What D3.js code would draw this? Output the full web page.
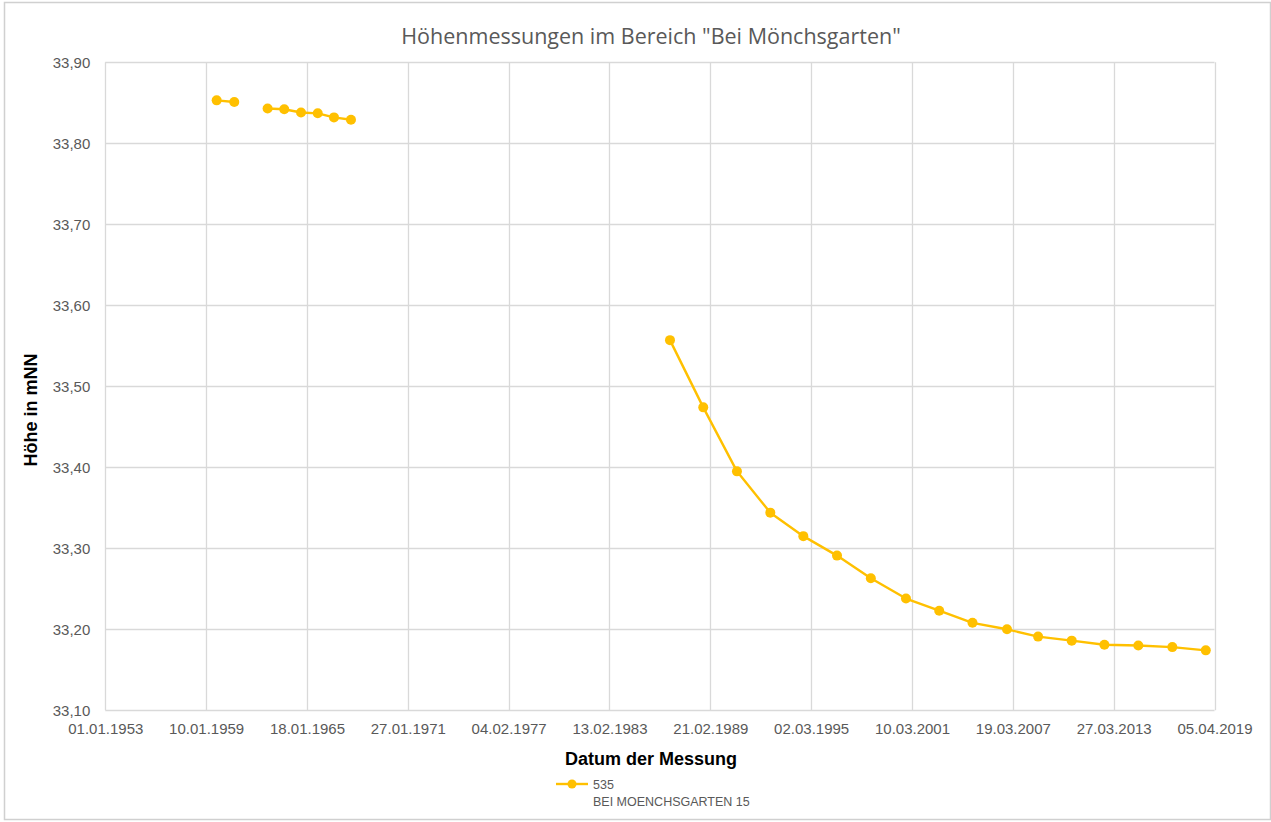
<!DOCTYPE html>
<meta charset="utf-8">
<head>
<style>
body { margin: 0; background: #fff; }
svg { display: block; }
.tick text { font-family: "Liberation Sans", Arial, sans-serif; font-size: 15px; fill: #595959; }
</style>
<script src="https://d3js.org/d3.v7.min.js"></script>
</head>
<body>
<svg width="1271" height="822"></svg>
<script>

// measurement dates (null value = gap in the series)
var dates = [
  "1959-08-28", "1960-09-15", "1961-09-15", "1962-09-12", "1963-09-10",
  "1964-09-10", "1965-09-10", "1966-08-30", "1967-09-05", "1975-01-01",
  "1986-09-25", "1988-09-20", "1990-09-25", "1992-09-22", "1994-09-12",
  "1996-09-16", "1998-09-24", "2000-10-30", "2002-10-25", "2004-10-20",
  "2006-11-12", "2008-09-20", "2010-09-24", "2012-09-06", "2014-09-16",
  "2016-09-27", "2018-09-27"
];
var heights = [
  33.853, 33.851, null, 33.843, 33.842,
  33.838, 33.837, 33.832, 33.829, null,
  33.557, 33.474, 33.395, 33.344, 33.315,
  33.291, 33.263, 33.238, 33.223, 33.208,
  33.200, 33.191, 33.186, 33.181, 33.180,
  33.178, 33.174
];
var yTicks = [33.10, 33.20, 33.30, 33.40, 33.50, 33.60, 33.70, 33.80, 33.90];
var xStart = "1953-01-01";
var xStepDays = 2200;
var xTickCount = 12;

var chartTitle = 'Höhenmessungen im Bereich "Bei Mönchsgarten"';
var xTitle = "Datum der Messung";
var yTitle = "Höhe in mNN";
var seriesName = "535";
var seriesDesc = "BEI MOENCHSGARTEN 15";

var gold = "#FFC000";

var svg = d3.select("svg");
var parse = d3.utcParse("%Y-%m-%d");
var fmtDate = d3.utcFormat("%d.%m.%Y");

var data = dates.map(function(d, i) { return {date: parse(d), value: heights[i]}; });

var start = parse(xStart);
var xTickValues = d3.range(xTickCount).map(function(i) { return d3.utcDay.offset(start, i * xStepDays); });

var plotLeft = 105.3, plotRight = 1214.5, plotTop = 62.3, plotBottom = 710.3;

var x = d3.scaleUtc()
    .domain([xTickValues[0], xTickValues[xTickValues.length - 1]])
    .range([plotLeft, plotRight]);

var y = d3.scaleLinear()
    .domain([33.10, 33.90])
    .range([plotBottom, plotTop]);

// outer chart border
svg.append("rect")
    .attr("x", 4.5).attr("y", 2.5)
    .attr("width", 1266).attr("height", 817)
    .attr("fill", "none")
    .attr("stroke", "#d0d0d0")
    .attr("stroke-width", 1.5);

// gridlines
svg.append("g")
    .selectAll("line")
    .data(yTicks)
    .enter().append("line")
      .attr("x1", plotLeft).attr("x2", plotRight)
      .attr("y1", function(d) { return Math.round(y(d)) + 0.5; })
      .attr("y2", function(d) { return Math.round(y(d)) + 0.5; })
      .attr("stroke", "#d9d9d9")
      .attr("stroke-width", 1.3);

svg.append("g")
    .selectAll("line")
    .data(xTickValues)
    .enter().append("line")
      .attr("x1", function(d) { return Math.round(x(d)) + 0.5; })
      .attr("x2", function(d) { return Math.round(x(d)) + 0.5; })
      .attr("y1", plotTop).attr("y2", plotBottom)
      .attr("stroke", "#d9d9d9")
      .attr("stroke-width", 1.3);

// axes (labels only)
var xAxis = svg.append("g")
    .attr("transform", "translate(0," + plotBottom + ")")
    .call(d3.axisBottom(x).tickValues(xTickValues).tickFormat(fmtDate).tickSize(0).tickPadding(13));
xAxis.select(".domain").remove();

var yAxis = svg.append("g")
    .attr("transform", "translate(" + plotLeft + ",0)")
    .call(d3.axisLeft(y).tickValues(yTicks)
      .tickFormat(function(d) { return d3.format(".2f")(d).replace(".", ","); })
      .tickSize(0).tickPadding(15));
yAxis.select(".domain").remove();

// line with gaps
var line = d3.line()
    .defined(function(d) { return d.value !== null; })
    .x(function(d) { return x(d.date); })
    .y(function(d) { return y(d.value); });

svg.append("path")
    .datum(data)
    .attr("fill", "none")
    .attr("stroke", gold)
    .attr("stroke-width", 2.4)
    .attr("stroke-linejoin", "round")
    .attr("d", line);

svg.append("g")
    .selectAll("circle")
    .data(data.filter(function(d) { return d.value !== null; }))
    .enter().append("circle")
      .attr("cx", function(d) { return x(d.date); })
      .attr("cy", function(d) { return y(d.value); })
      .attr("r", 5)
      .attr("fill", gold);

// titles
svg.append("text")
    .attr("x", 651).attr("y", 44)
    .attr("text-anchor", "middle")
    .style("font-family", "'Open Sans', sans-serif")
    .style("font-size", "21.5px")
    .style("fill", "#595959")
    .text(chartTitle);

svg.append("text")
    .attr("x", 651).attr("y", 765)
    .attr("text-anchor", "middle")
    .style("font-family", "'Liberation Sans', Arial, sans-serif")
    .style("font-weight", "bold")
    .style("font-size", "18px")
    .style("fill", "#000")
    .text(xTitle);

svg.append("text")
    .attr("transform", "translate(37,410) rotate(-90)")
    .attr("text-anchor", "middle")
    .style("font-family", "'Liberation Sans', Arial, sans-serif")
    .style("font-weight", "bold")
    .style("font-size", "18px")
    .style("fill", "#000")
    .text(yTitle);

// legend
var legend = svg.append("g").attr("transform", "translate(556,784)");
legend.append("line")
    .attr("x1", 0).attr("x2", 32).attr("y1", 0).attr("y2", 0)
    .attr("stroke", gold).attr("stroke-width", 2.4);
legend.append("circle").attr("cx", 16).attr("cy", 0).attr("r", 4.5).attr("fill", gold);
legend.append("text")
    .attr("x", 37).attr("y", 5)
    .style("font-family", "'Liberation Sans', Arial, sans-serif")
    .style("font-size", "12.5px")
    .style("fill", "#595959")
    .text(seriesName);
legend.append("text")
    .attr("x", 37).attr("y", 22)
    .style("font-family", "'Liberation Sans', Arial, sans-serif")
    .style("font-size", "12.5px")
    .style("fill", "#595959")
    .text(seriesDesc);

</script>
</body>
